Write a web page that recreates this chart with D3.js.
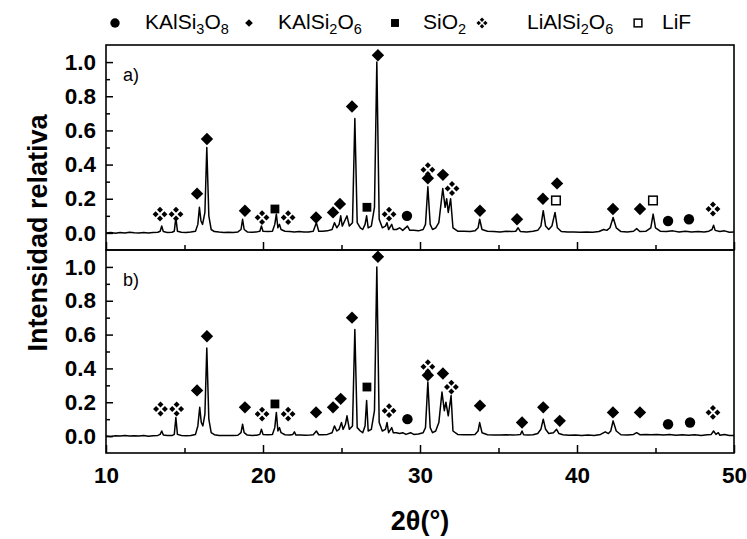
<!DOCTYPE html>
<html><head><meta charset="utf-8">
<script src="https://cdn.jsdelivr.net/npm/d3@7"></script>
<style>body{margin:0;background:#fff}svg{display:block}</style>
</head><body>
<svg id="c" width="747" height="539"></svg>
<script>
// ---------- DATA ----------
const xTickValues = [10, 20, 30, 40, 50];
const xMinorTicks = [15, 25, 35, 45];
const yTickValues = [0.0, 0.2, 0.4, 0.6, 0.8, 1.0];
const yMinorTicks = [0.1, 0.3, 0.5, 0.7, 0.9];

// Pattern a)
const angleA = [10.0,10.3,10.6,10.9,11.2,11.5,11.8,12.1,12.4,12.7,13.0,13.3,13.45,13.55,13.65,13.9,14.2,14.35,14.45,14.55,14.8,15.1,15.4,15.7,15.85,15.95,16.05,16.15,16.3,16.42,16.55,16.7,16.9,17.2,17.5,17.8,18.1,18.4,18.6,18.7,18.8,19.0,19.3,19.6,19.8,19.9,20.0,20.3,20.6,20.75,20.85,20.95,21.05,21.15,21.4,21.7,22.0,22.3,22.6,22.9,23.2,23.4,23.55,23.8,24.1,24.4,24.55,24.7,24.85,24.95,25.05,25.25,25.35,25.5,25.7,25.85,26.0,26.2,26.35,26.5,26.6,26.7,26.9,27.1,27.25,27.4,27.6,27.8,27.9,28.0,28.2,28.3,28.5,28.7,28.9,29.2,29.35,29.6,29.9,30.2,30.35,30.5,30.65,30.8,31.0,31.2,31.45,31.6,31.7,31.8,31.95,32.1,32.4,32.8,33.2,33.5,33.7,33.8,33.95,34.3,34.7,35.1,35.5,35.8,36.1,36.25,36.4,36.8,37.2,37.5,37.7,37.85,38.0,38.2,38.4,38.6,38.75,39.0,39.4,39.8,40.2,40.6,41.0,41.4,41.7,41.9,42.1,42.3,42.5,42.8,43.2,43.6,43.8,44.0,44.4,44.7,44.85,45.0,45.3,45.7,46.1,46.5,46.9,47.3,47.7,48.1,48.4,48.6,48.7,48.8,49.1,49.4,49.7,50.0];
const intensityA = [0.0,0.003,-0.002,0.002,0.0,0.004,0.001,-0.001,0.003,0.0,0.002,0.004,0.01,0.04,0.008,0.003,0.004,0.01,0.09,0.01,0.004,0.002,0.005,0.01,0.05,0.15,0.07,0.05,0.12,0.50,0.10,0.02,0.008,0.005,0.003,0.004,0.002,0.006,0.02,0.08,0.02,0.006,0.004,0.006,0.01,0.04,0.01,0.008,0.01,0.05,0.11,0.03,0.05,0.02,0.01,0.008,0.006,0.008,0.005,0.006,0.01,0.06,0.01,0.01,0.012,0.02,0.06,0.03,0.05,0.10,0.04,0.08,0.10,0.04,0.06,0.67,0.06,0.03,0.02,0.05,0.10,0.03,0.04,0.15,1.0,0.08,0.03,0.04,0.06,0.02,0.05,0.02,0.02,0.03,0.015,0.04,0.015,0.015,0.012,0.02,0.05,0.27,0.05,0.02,0.03,0.06,0.26,0.15,0.20,0.12,0.20,0.03,0.01,0.01,0.008,0.012,0.03,0.08,0.02,0.01,0.008,0.006,0.01,0.008,0.01,0.03,0.008,0.006,0.01,0.015,0.04,0.13,0.04,0.02,0.04,0.12,0.03,0.008,0.005,0.006,0.004,0.006,0.004,0.008,0.02,0.015,0.03,0.09,0.03,0.008,0.006,0.01,0.025,0.008,0.01,0.03,0.11,0.03,0.01,0.008,0.012,0.006,0.01,0.006,0.008,0.005,0.01,0.02,0.045,0.015,0.008,0.012,0.004,0.005];

// Pattern b)
const angleB = [10.0,10.3,10.6,10.9,11.2,11.5,11.8,12.1,12.4,12.7,13.0,13.3,13.45,13.55,13.65,13.9,14.2,14.35,14.45,14.55,14.8,15.1,15.4,15.7,15.85,15.97,16.07,16.17,16.3,16.42,16.55,16.7,16.9,17.2,17.5,17.8,18.1,18.4,18.6,18.7,18.8,19.0,19.3,19.6,19.8,19.9,20.0,20.3,20.6,20.75,20.85,20.95,21.05,21.15,21.4,21.7,21.9,22.0,22.1,22.4,22.7,23.0,23.2,23.4,23.55,23.8,24.1,24.4,24.55,24.7,24.85,25.0,25.1,25.25,25.35,25.5,25.7,25.85,26.0,26.2,26.35,26.5,26.6,26.7,26.9,27.1,27.25,27.4,27.6,27.8,27.9,28.0,28.2,28.3,28.5,28.7,28.9,29.1,29.4,29.6,29.9,30.2,30.35,30.5,30.65,30.8,31.0,31.2,31.4,31.55,31.65,31.8,31.98,32.1,32.4,32.8,33.2,33.5,33.7,33.8,33.95,34.3,34.7,35.1,35.5,35.9,36.2,36.4,36.5,36.6,36.9,37.2,37.5,37.7,37.85,38.0,38.2,38.5,38.7,38.85,39.1,39.5,39.9,40.3,40.7,41.1,41.5,41.8,42.0,42.15,42.3,42.5,42.8,43.2,43.6,43.8,44.0,44.4,44.7,45.1,45.5,45.9,46.3,46.7,47.1,47.5,47.9,48.3,48.55,48.7,48.85,49.0,49.1,49.4,49.7,50.0];
const intensityB = [0.0,-0.002,0.002,0.0,0.003,0.0,0.002,0.0,0.003,-0.001,0.002,0.004,0.01,0.03,0.006,0.003,0.003,0.01,0.11,0.01,0.003,0.002,0.004,0.01,0.06,0.17,0.08,0.06,0.13,0.52,0.10,0.02,0.008,0.004,0.003,0.004,0.003,0.005,0.02,0.07,0.02,0.006,0.004,0.005,0.01,0.04,0.01,0.008,0.01,0.05,0.14,0.03,0.05,0.02,0.008,0.006,0.01,0.025,0.006,0.006,0.005,0.006,0.008,0.03,0.008,0.008,0.01,0.02,0.06,0.03,0.04,0.08,0.04,0.07,0.12,0.04,0.06,0.63,0.05,0.03,0.02,0.06,0.21,0.03,0.04,0.15,1.0,0.08,0.03,0.04,0.08,0.02,0.05,0.02,0.02,0.015,0.02,0.01,0.02,0.01,0.012,0.02,0.05,0.32,0.05,0.02,0.03,0.08,0.26,0.15,0.20,0.12,0.24,0.03,0.01,0.008,0.008,0.01,0.03,0.08,0.02,0.008,0.006,0.006,0.008,0.006,0.008,0.01,0.03,0.008,0.006,0.008,0.015,0.04,0.10,0.04,0.015,0.02,0.04,0.015,0.008,0.005,0.006,0.004,0.006,0.004,0.01,0.025,0.015,0.03,0.09,0.03,0.008,0.006,0.01,0.02,0.008,0.01,0.008,0.01,0.006,0.01,0.005,0.008,0.005,0.008,0.004,0.008,0.01,0.03,0.01,0.02,0.005,0.01,0.004,0.003];

// Phase markers (phase index, 2θ, height)
const phaseNames = ["KAlSi3O8", "KAlSi2O6", "SiO2", "LiAlSi2O6", "LiF"];
const markerPhaseA = [3,3,1,1,1,3,2,3,1,1,1,1,2,1,3,0,3,1,1,3,1,1,1,4,1,1,1,4,0,0,3];
const markerAngleA = [13.44,14.46,15.8,16.43,18.85,19.94,20.76,21.6,23.38,24.46,24.9,25.67,26.62,27.32,28.03,29.17,30.5,30.5,31.46,32.04,33.82,36.18,37.83,38.66,38.73,42.29,44.01,44.84,45.8,47.13,48.66];
const markerHeightA = [0.11,0.11,0.23,0.55,0.13,0.09,0.14,0.09,0.09,0.12,0.17,0.74,0.15,1.04,0.11,0.10,0.37,0.32,0.34,0.26,0.13,0.08,0.20,0.19,0.29,0.14,0.14,0.19,0.07,0.08,0.14];
const markerPhaseB = [3,3,1,1,1,3,2,3,1,1,1,1,2,1,3,0,3,1,1,3,1,1,1,1,1,1,0,0,3];
const markerAngleB = [13.47,14.5,15.8,16.43,18.85,19.94,20.76,21.6,23.38,24.46,24.95,25.67,26.62,27.32,28.03,29.2,30.5,30.5,31.46,32.0,33.82,36.5,37.85,38.9,42.29,44.01,45.8,47.2,48.66];
const markerHeightB = [0.16,0.16,0.27,0.59,0.17,0.13,0.19,0.13,0.14,0.17,0.22,0.70,0.29,1.06,0.15,0.10,0.41,0.36,0.37,0.29,0.18,0.08,0.17,0.09,0.14,0.14,0.07,0.08,0.14];

// ---------- DRAW ----------
const FONT = "Arial, 'Liberation Sans', sans-serif";
const svg = d3.select("#c");
const x = d3.scaleLinear().domain([10, 50]).range([106, 734]);
const panels = [
  {label: "a)", top: 45, bottom: 250, angle: angleA, inten: intensityA, mp: markerPhaseA, ma: markerAngleA, mh: markerHeightA},
  {label: "b)", top: 250, bottom: 453, angle: angleB, inten: intensityB, mp: markerPhaseB, ma: markerAngleB, mh: markerHeightB}
];

function diamondPath(r){ return `M0,${-r}L${r},0L0,${r}L${-r},0Z`; }
function drawSymbol(g, phase, cx, cy, s){
  const t = g.append("g").attr("transform", `translate(${cx},${cy})`);
  if (phase === 0) t.append("circle").attr("r", 5.2*s).attr("fill", "#000");
  else if (phase === 1) t.append("path").attr("d", diamondPath(6.2*s)).attr("fill", "#000");
  else if (phase === 2) t.append("rect").attr("x", -4.4*s).attr("y", -4.4*s).attr("width", 8.8*s).attr("height", 8.8*s).attr("fill", "#000");
  else if (phase === 3) {
    const o = 4.4*s, r = 3.0*s;
    [[0,-o],[o,0],[0,o],[-o,0]].forEach(([dx,dy]) =>
      t.append("path").attr("d", diamondPath(r)).attr("transform", `translate(${dx},${dy})`).attr("fill", "#000"));
  } else if (phase === 4) t.append("rect").attr("x", -4.3*s).attr("y", -4.3*s).attr("width", 8.6*s).attr("height", 8.6*s)
      .attr("fill", "#fff").attr("stroke", "#000").attr("stroke-width", 1.5);
}

panels.forEach((p, i) => {
  const y = d3.scaleLinear().domain([-0.1, 1.1]).range([p.bottom, p.top]);
  const g = svg.append("g");

  // left axis major
  const la = g.append("g").attr("transform", "translate(106,0)")
    .call(d3.axisLeft(y).tickValues(yTickValues).tickSize(-7).tickPadding(10).tickFormat(d3.format(".1f")));
  la.select(".domain").remove();
  la.selectAll("line").attr("stroke", "#000").attr("stroke-width", 1.5);
  la.selectAll("text").attr("font-family", FONT).attr("font-size", 22.5).attr("font-weight", "bold").attr("fill", "#000");
  const lm = g.append("g").attr("transform", "translate(106,0)")
    .call(d3.axisLeft(y).tickValues(yMinorTicks).tickSize(-4).tickFormat(""));
  lm.select(".domain").remove();
  lm.selectAll("line").attr("stroke", "#000").attr("stroke-width", 1.5);

  // bottom axis
  const ba = g.append("g").attr("transform", `translate(0,${p.bottom})`)
    .call(d3.axisBottom(x).tickValues(xTickValues).tickSize(-8).tickPadding(14).tickFormat(i === 1 ? d3.format("d") : ""));
  ba.select(".domain").remove();
  ba.selectAll("line").attr("stroke", "#000").attr("stroke-width", 1.5);
  ba.selectAll("text").attr("font-family", FONT).attr("font-size", 22.5).attr("font-weight", "bold").attr("fill", "#000");
  const bm = g.append("g").attr("transform", `translate(0,${p.bottom})`)
    .call(d3.axisBottom(x).tickValues(xMinorTicks).tickSize(-5).tickFormat(""));
  bm.select(".domain").remove();
  bm.selectAll("line").attr("stroke", "#000").attr("stroke-width", 1.5);

  // pattern line
  const pts = p.angle.map((a, k) => [a, p.inten[k]]);
  g.append("path").datum(pts)
    .attr("d", d3.line().x(d => x(d[0])).y(d => y(d[1])))
    .attr("fill", "none").attr("stroke", "#000").attr("stroke-width", 1.5).attr("stroke-linejoin", "round");

  // markers
  p.mp.forEach((ph, k) => drawSymbol(g, ph, x(p.ma[k]), y(p.mh[k]), 1));

  // frame
  g.append("rect").attr("x", 106).attr("y", p.top).attr("width", 734 - 106).attr("height", p.bottom - p.top)
    .attr("fill", "none").attr("stroke", "#000").attr("stroke-width", 1.6);

  // panel label
  g.append("text").attr("x", 123).attr("y", p.top + 36).text(p.label)
    .attr("font-family", FONT).attr("font-size", 18).attr("fill", "#000");
});

// axis titles
svg.append("text").attr("transform", "translate(47,233) rotate(-90)").attr("text-anchor", "middle")
  .attr("font-family", FONT).attr("font-size", 27).attr("font-weight", "bold").text("Intensidad relativa");
svg.append("text").attr("x", 420).attr("y", 530).attr("text-anchor", "middle")
  .attr("font-family", FONT).attr("font-size", 27).attr("font-weight", "bold").text("2θ(°)");

// legend
const legendParts = [
  [["KAlSi",0],["3",1],["O",0],["8",1]],
  [["KAlSi",0],["2",1],["O",0],["6",1]],
  [["SiO",0],["2",1]],
  [["LiAlSi",0],["2",1],["O",0],["6",1]],
  [["LiF",0]]
];
const legendSymX = [115, 249, 395, 482, 638];
const legendTextX = [145, 278, 423, 527, 662];
const lg = svg.append("g");
legendParts.forEach((parts, i) => {
  drawSymbol(lg, i, legendSymX[i], 23, i === 3 ? 0.75 : (i === 1 ? 0.62 : 0.9));
  const t = lg.append("text").attr("x", legendTextX[i]).attr("y", 29)
    .attr("font-family", FONT).attr("font-size", 21).attr("fill", "#000");
  let sub = false;
  parts.forEach(([s, isSub]) => {
    const ts = t.append("tspan").text(s);
    if (isSub && !sub) { ts.attr("dy", 5).attr("font-size", 14.5); sub = true; }
    else if (isSub) { ts.attr("font-size", 14.5); }
    else if (!isSub && sub) { ts.attr("dy", -5); sub = false; }
  });
});
</script>
</body></html>
